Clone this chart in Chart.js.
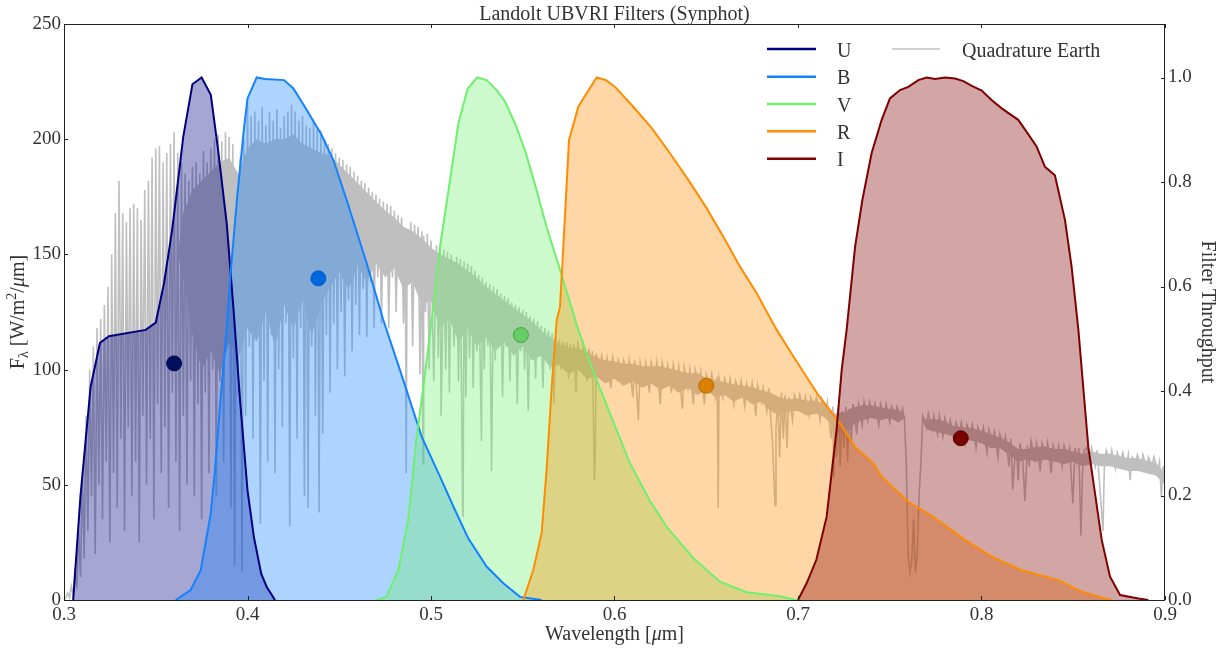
<!DOCTYPE html>
<html>
<head>
<meta charset="utf-8">
<title>Landolt UBVRI Filters (Synphot)</title>
<script src="https://cdn.jsdelivr.net/npm/chart.js@4.4.1/dist/chart.umd.min.js"></script>
<style>
  html, body { margin: 0; padding: 0; background: #fff; }
  canvas { display: block; }
</style>
</head>
<body>
<canvas id="chart" width="1225" height="649"></canvas>
<script>
// axis ticks
const xTicks = [0.3, 0.4, 0.5, 0.6, 0.7, 0.8, 0.9];
const fluxTicks = [0, 50, 100, 150, 200, 250];
const thruTicks = [0, 0.2, 0.4, 0.6, 0.8, 1.0];

// filter throughput curves (wavelength in um, throughput 0-1)
const filterNames = ['U', 'B', 'V', 'R', 'I'];
const uWave = [0.305, 0.309, 0.3145, 0.3196, 0.3245, 0.3445, 0.350, 0.3545, 0.359, 0.365, 0.370, 0.375, 0.380, 0.384, 0.3887, 0.3923, 0.396, 0.400, 0.4035, 0.4075, 0.4105, 0.415];
const uThru = [0, 0.20, 0.408, 0.492, 0.505, 0.517, 0.531, 0.606, 0.71, 0.887, 0.987, 1.0, 0.967, 0.861, 0.72, 0.56, 0.38, 0.21, 0.12, 0.05, 0.025, 0];
const bWave = [0.3609, 0.369, 0.3745, 0.380, 0.3823, 0.3854, 0.3887, 0.3908, 0.3944, 0.398, 0.4, 0.405, 0.4095, 0.4199, 0.425, 0.4323, 0.4404, 0.4468, 0.454, 0.465, 0.474, 0.4831, 0.4949, 0.5049, 0.5122, 0.5203, 0.5303, 0.5394, 0.5485, 0.5603];
const bThru = [0, 0.019, 0.057, 0.166, 0.25, 0.389, 0.52, 0.626, 0.772, 0.9, 0.96, 1.0, 0.997, 0.995, 0.979, 0.938, 0.89, 0.842, 0.766, 0.644, 0.536, 0.44, 0.3126, 0.236, 0.179, 0.118, 0.064, 0.032, 0.006, 0];
const vWave = [0.4704, 0.4758, 0.4822, 0.4876, 0.4922, 0.4958, 0.5004, 0.5049, 0.5104, 0.5149, 0.520, 0.5252, 0.5303, 0.5358, 0.5403, 0.5458, 0.5512, 0.5567, 0.563, 0.5703, 0.5803, 0.5848, 0.5903, 0.5975, 0.6084, 0.6193, 0.6285, 0.643, 0.6575, 0.672, 0.6884, 0.6993];
const vThru = [0, 0.006, 0.057, 0.153, 0.3126, 0.408, 0.536, 0.676, 0.804, 0.912, 0.979, 1.0, 0.995, 0.976, 0.954, 0.912, 0.861, 0.795, 0.714, 0.632, 0.517, 0.472, 0.421, 0.357, 0.262, 0.19, 0.14, 0.08, 0.035, 0.015, 0.008, 0];
const rWave = [0.5503, 0.5557, 0.5603, 0.563, 0.5658, 0.5685, 0.5703, 0.573, 0.5752, 0.5803, 0.5848, 0.5903, 0.5954, 0.6003, 0.6102, 0.6203, 0.6302, 0.6402, 0.6502, 0.6593, 0.6684, 0.6775, 0.6884, 0.6975, 0.7111, 0.7229, 0.7311, 0.741, 0.7456, 0.7601, 0.7737, 0.791, 0.8055, 0.8219, 0.8419, 0.8546, 0.8673, 0.871];
const rThru = [0, 0.057, 0.128, 0.249, 0.408, 0.536, 0.561, 0.734, 0.88, 0.944, 0.97, 1.0, 0.995, 0.982, 0.944, 0.903, 0.855, 0.804, 0.75, 0.695, 0.638, 0.587, 0.517, 0.466, 0.392, 0.338, 0.293, 0.262, 0.236, 0.188, 0.159, 0.115, 0.083, 0.057, 0.038, 0.016, 0.003, 0];
const iWave = [0.700, 0.7047, 0.710, 0.7156, 0.721, 0.7238, 0.7265, 0.7311, 0.7351, 0.7401, 0.7456, 0.7501, 0.7556, 0.7601, 0.7656, 0.7701, 0.7747, 0.7801, 0.7856, 0.7901, 0.7947, 0.8001, 0.8055, 0.811, 0.82, 0.8246, 0.83, 0.8346, 0.84, 0.8455, 0.8491, 0.8528, 0.8582, 0.8655, 0.870, 0.8755, 0.8855, 0.8909];
const iThru = [0, 0.032, 0.077, 0.159, 0.325, 0.44, 0.517, 0.676, 0.766, 0.855, 0.919, 0.96, 0.976, 0.982, 0.995, 1.0, 0.997, 1.0, 0.998, 0.993, 0.984, 0.975, 0.957, 0.941, 0.919, 0.896, 0.868, 0.829, 0.813, 0.727, 0.638, 0.517, 0.293, 0.115, 0.045, 0.0096, 0.003, 0];

// photometric points per band (left axis, W/m^2/um)
const markWave = [0.36, 0.4386, 0.549, 0.65, 0.7887];
const markFlux = [102.7, 139.6, 115.0, 93.0, 70.2];

// quadrature Earth spectrum, [wavelength um, flux W/m^2/um]
const specUV = [
  [0.300, 0], [0.301, 1], [0.302, 3], [0.303, 1], [0.304, 6], [0.305, 2], [0.306, 14], [0.307, 5], [0.308, 30], [0.309, 10],
  [0.310, 55], [0.311, 18], [0.312, 80], [0.313, 30], [0.314, 100], [0.315, 45], [0.316, 110], [0.317, 20], [0.318, 118], [0.319, 50],
  [0.320, 122], [0.321, 35], [0.322, 128], [0.323, 60], [0.324, 136], [0.325, 25], [0.326, 150], [0.327, 55], [0.328, 168], [0.329, 40],
  [0.330, 182], [0.331, 70], [0.332, 168], [0.333, 30], [0.334, 164], [0.335, 75], [0.336, 170], [0.337, 45], [0.338, 172], [0.339, 60],
  [0.340, 170], [0.341, 25], [0.342, 165], [0.343, 80], [0.344, 178], [0.345, 50], [0.346, 182], [0.347, 70], [0.348, 192], [0.349, 35],
  [0.350, 196], [0.351, 85], [0.352, 197], [0.353, 55], [0.354, 190], [0.355, 75], [0.356, 194], [0.357, 40], [0.358, 198], [0.359, 90],
  [0.360, 203], [0.361, 60], [0.362, 194], [0.363, 30], [0.364, 190], [0.365, 80], [0.366, 185], [0.367, 50], [0.368, 182], [0.369, 95],
  [0.370, 188], [0.371, 45], [0.372, 190], [0.373, 85], [0.374, 185], [0.375, 35], [0.376, 195], [0.377, 90], [0.378, 190], [0.379, 55],
  [0.380, 196], [0.381, 100], [0.382, 200], [0.383, 45], [0.384, 202], [0.385, 95], [0.386, 199], [0.387, 60], [0.388, 203], [0.389, 110],
  [0.390, 201], [0.391, 40], [0.392, 198], [0.393, 15], [0.394, 185], [0.395, 90], [0.396, 192], [0.397, 12], [0.398, 200], [0.399, 80],
  [0.400, 216]
];
const specBlue = [
  [0.401, 110], [0.402, 210], [0.403, 70], [0.404, 212], [0.405, 120], [0.406, 208], [0.407, 33], [0.408, 214], [0.409, 95], [0.410, 206],
  [0.411, 60], [0.412, 212], [0.413, 115], [0.414, 208], [0.415, 55], [0.416, 213], [0.417, 100], [0.418, 205], [0.419, 75], [0.420, 210],
  [0.421, 120], [0.422, 212], [0.423, 32], [0.424, 215], [0.425, 105], [0.426, 212], [0.427, 70], [0.428, 208], [0.429, 118], [0.430, 210],
  [0.431, 45], [0.432, 206], [0.433, 40], [0.434, 205], [0.435, 110], [0.436, 208], [0.437, 80], [0.438, 204], [0.439, 38], [0.440, 204],
  [0.441, 72], [0.442, 200], [0.443, 115], [0.444, 198], [0.445, 90], [0.446, 196], [0.447, 120], [0.448, 194], [0.449, 100], [0.450, 192],
  [0.451, 125], [0.452, 191], [0.453, 97], [0.454, 189], [0.455, 130], [0.456, 188], [0.457, 108], [0.458, 186], [0.459, 128], [0.460, 184],
  [0.461, 115], [0.462, 182], [0.463, 135], [0.464, 181], [0.465, 114], [0.466, 179], [0.467, 138], [0.468, 177], [0.469, 118], [0.470, 176],
  [0.471, 140], [0.472, 174], [0.473, 120], [0.474, 173], [0.475, 142], [0.476, 172], [0.477, 118], [0.478, 171], [0.479, 140], [0.480, 169],
  [0.481, 125], [0.482, 167], [0.483, 145], [0.484, 166], [0.485, 120], [0.486, 150], [0.4865, 55], [0.487, 158], [0.488, 140], [0.489, 164],
  [0.490, 110], [0.491, 163], [0.492, 140], [0.493, 162], [0.494, 98], [0.495, 160], [0.4957, 59], [0.496, 158], [0.497, 125], [0.498, 159],
  [0.499, 100], [0.500, 156]
];
const specGreen = [
  [0.5015, 95], [0.503, 154], [0.504, 105], [0.505, 153], [0.5055, 80], [0.507, 152], [0.508, 100], [0.509, 151], [0.510, 90], [0.511, 150],
  [0.5125, 110], [0.514, 149], [0.515, 95], [0.516, 148], [0.5172, 40], [0.5175, 36], [0.518, 147], [0.519, 88], [0.520, 146], [0.521, 105],
  [0.522, 145], [0.523, 92], [0.524, 143], [0.525, 108], [0.526, 141], [0.5275, 69], [0.528, 140], [0.529, 100], [0.530, 138], [0.531, 110],
  [0.532, 137], [0.533, 56], [0.534, 136], [0.535, 104], [0.536, 135], [0.537, 112], [0.538, 133], [0.539, 88], [0.540, 132], [0.541, 110],
  [0.542, 131], [0.543, 95], [0.544, 129], [0.545, 112], [0.546, 128], [0.547, 85], [0.548, 127], [0.549, 108], [0.550, 126], [0.551, 100],
  [0.552, 125], [0.553, 82], [0.554, 123], [0.555, 106], [0.556, 122], [0.557, 96], [0.558, 121], [0.559, 108], [0.560, 119], [0.561, 92],
  [0.562, 118], [0.563, 104], [0.564, 117], [0.565, 100], [0.566, 116], [0.567, 85], [0.568, 114], [0.569, 102], [0.570, 113]
];
const specOrange = [
  [0.571, 100], [0.572, 112], [0.573, 104], [0.574, 112], [0.575, 96], [0.576, 111], [0.577, 105], [0.578, 111], [0.579, 90], [0.580, 111],
  [0.582, 102], [0.583, 110], [0.585, 95], [0.586, 109], [0.587, 100], [0.588, 108], [0.589, 52], [0.5895, 60], [0.590, 107], [0.592, 98],
  [0.593, 106], [0.595, 100], [0.596, 105], [0.598, 92], [0.599, 105], [0.601, 97], [0.602, 104], [0.604, 95], [0.605, 104], [0.607, 98],
  [0.608, 104], [0.610, 88], [0.611, 104], [0.613, 78], [0.614, 103], [0.616, 95], [0.617, 103], [0.619, 90], [0.620, 103], [0.622, 96],
  [0.623, 103], [0.625, 85], [0.626, 103], [0.628, 95], [0.629, 102], [0.631, 90], [0.632, 102], [0.634, 95], [0.635, 101], [0.637, 83],
  [0.638, 101], [0.640, 92], [0.641, 100], [0.643, 85], [0.644, 100], [0.646, 93], [0.647, 99], [0.649, 85], [0.650, 98], [0.652, 92],
  [0.653, 98], [0.655, 88], [0.656, 97], [0.6565, 40], [0.657, 96], [0.659, 88], [0.660, 96], [0.662, 90], [0.663, 96], [0.665, 85],
  [0.666, 95], [0.668, 90], [0.669, 95], [0.671, 84], [0.672, 94], [0.674, 88], [0.675, 94], [0.677, 80], [0.678, 93], [0.680, 86],
  [0.681, 92], [0.683, 82], [0.684, 92], [0.686, 70], [0.6875, 41], [0.688, 74], [0.689, 88], [0.690, 62], [0.691, 90], [0.692, 70],
  [0.693, 89], [0.694, 66], [0.695, 88], [0.697, 78], [0.698, 89], [0.700, 84]
];
const specRed = [
  [0.701, 89], [0.703, 82], [0.704, 88], [0.706, 80], [0.707, 88], [0.709, 84], [0.710, 88], [0.712, 78], [0.713, 87], [0.715, 80],
  [0.716, 86], [0.718, 70], [0.719, 84], [0.7195, 53], [0.720, 80], [0.721, 62], [0.722, 84], [0.723, 58], [0.724, 82], [0.725, 66],
  [0.726, 84], [0.727, 60], [0.728, 83], [0.729, 68], [0.730, 85], [0.732, 72], [0.733, 85], [0.735, 76], [0.736, 86], [0.738, 78],
  [0.739, 86], [0.741, 80], [0.742, 85], [0.744, 76], [0.745, 85], [0.747, 80], [0.748, 85], [0.750, 77], [0.751, 84], [0.753, 79],
  [0.754, 84], [0.756, 80], [0.757, 83], [0.758, 78], [0.759, 60], [0.760, 20], [0.761, 12], [0.762, 17], [0.763, 35], [0.764, 12],
  [0.765, 20], [0.766, 46], [0.767, 60], [0.768, 80], [0.770, 76], [0.771, 81], [0.773, 74], [0.774, 80], [0.776, 72], [0.777, 80],
  [0.779, 71], [0.780, 79], [0.782, 74], [0.783, 78], [0.785, 70], [0.786, 77], [0.788, 73], [0.789, 77], [0.791, 68], [0.792, 76],
  [0.794, 72], [0.795, 76], [0.797, 66], [0.798, 75], [0.800, 70]
];
const specNIR = [
  [0.801, 75], [0.803, 64], [0.804, 74], [0.806, 69], [0.807, 73], [0.809, 62], [0.810, 72], [0.812, 67], [0.813, 71], [0.815, 58],
  [0.816, 70], [0.817, 48], [0.818, 60], [0.819, 66], [0.820, 52], [0.821, 68], [0.8225, 60], [0.8237, 43], [0.825, 67], [0.826, 58],
  [0.827, 69], [0.829, 61], [0.830, 68], [0.832, 56], [0.833, 68], [0.835, 62], [0.836, 68], [0.838, 55], [0.839, 67], [0.841, 62],
  [0.842, 67], [0.844, 58], [0.845, 67], [0.847, 62], [0.848, 66], [0.8498, 42], [0.851, 66], [0.852, 60], [0.853, 66], [0.8542, 28],
  [0.855, 55], [0.856, 65], [0.8573, 66], [0.859, 60], [0.860, 66], [0.862, 58], [0.863, 65], [0.8662, 30], [0.867, 60], [0.868, 65],
  [0.870, 60], [0.871, 65], [0.873, 57], [0.874, 64], [0.876, 60], [0.877, 64], [0.879, 58], [0.880, 63], [0.881, 52], [0.882, 62],
  [0.884, 60], [0.885, 63], [0.887, 58], [0.888, 63], [0.890, 57], [0.891, 62], [0.893, 58], [0.894, 62], [0.896, 56], [0.897, 60],
  [0.898, 45], [0.899, 58], [0.900, 50]
];

// dense body of the line forest: solid between coreTop and coreBottom
const coreWave = [
  0.362, 0.365, 0.370, 0.375, 0.380, 0.385, 0.390, 0.395, 0.400, 0.405, 0.410, 0.415, 0.420, 0.425, 0.430, 0.435, 0.440, 0.445, 0.450,
  0.455, 0.460, 0.465, 0.470, 0.475, 0.480, 0.485, 0.490, 0.495, 0.500, 0.505, 0.510, 0.515, 0.520, 0.525, 0.530, 0.535, 0.540, 0.545,
  0.550, 0.555, 0.560, 0.565, 0.570, 0.575, 0.580, 0.585, 0.590, 0.595, 0.600, 0.605, 0.610, 0.615, 0.620, 0.625, 0.630, 0.635, 0.640,
  0.645, 0.650, 0.655, 0.660, 0.665, 0.670, 0.675, 0.680, 0.685, 0.690, 0.695, 0.700, 0.705, 0.710, 0.715, 0.720, 0.725, 0.730, 0.735,
  0.740, 0.745, 0.750, 0.755, 0.758, 0.759, 0.767, 0.768, 0.770, 0.775, 0.780, 0.785, 0.790, 0.795, 0.800, 0.805, 0.810, 0.815, 0.820,
  0.825, 0.830, 0.835, 0.840, 0.845, 0.850, 0.855, 0.860, 0.865, 0.870, 0.875, 0.880, 0.885, 0.890, 0.895, 0.900
];
const coreTop = [
  150, 168, 178, 182, 186, 190, 192, 185, 196, 200, 198, 200, 200, 202, 198, 196, 194, 193, 189,
  185, 181, 177, 173, 169, 166, 162, 160, 157, 153, 150, 148, 146, 143, 140, 136, 133, 130, 127,
  124, 121, 117, 114, 111, 109.5, 109.5, 107.5, 105.5, 104, 103.5, 102.5, 102.5, 101.5, 101.5, 101.5, 100.5, 99.5, 98.5,
  98.5, 96.5, 95.5, 94.5, 93.5, 93, 92.5, 91, 90, 88, 87, 87.5, 86.5, 86.5, 84.5, 81, 81.5, 83.5, 84.5,
  84.5, 83.5, 83, 82.5, 80, 79, 78, 78, 78.5, 78.5, 77.5, 75.5, 75, 74.5, 73.5, 72, 70.5, 68.5, 65.5,
  65.5, 66.5, 66.5, 65.5, 65.5, 64.5, 63.5, 64.5, 63.5, 63.5, 62.5, 61.5, 61.5, 60.5, 59.5, 55
];
const coreBottom = [
  150, 140, 115, 100, 108, 98, 112, 105, 118, 112, 125, 110, 128, 118, 130, 115, 128, 136, 142,
  135, 145, 138, 146, 140, 144, 135, 138, 128, 130, 118, 122, 112, 118, 110, 114, 108, 112, 106,
  110, 104, 106, 101, 102, 98, 100, 96, 97, 94, 96, 93, 95, 92, 94, 91, 93, 90, 92,
  89, 91, 88, 89, 86, 88, 85, 86, 82, 80, 82, 82, 80, 81, 79, 74, 72, 76, 78,
  79, 78, 79, 77, 79, 79, 78, 77, 74, 73, 72, 71, 70, 69, 68, 66, 66, 63, 60,
  61, 60, 61, 60, 59, 60, 58, 59, 58, 58, 57, 56, 56, 55, 54, 50
];

const lineColors = ['#000080', '#1482ff', '#6ef06e', '#ff8c00', '#800000'];
const fillColors = ['rgba(0,0,128,0.35)', 'rgba(20,130,255,0.35)', 'rgba(110,240,110,0.35)', 'rgba(255,140,0,0.35)', 'rgba(128,0,0,0.35)'];
const markFill = ['#000f5c', '#0066dc', '#64cd64', '#dc8000', '#780000'];
const markEdge = ['#000f5c', '#005fcc', '#46a546', '#b46a00', '#640000'];
const specColor = '#bfbfbf';
const textColor = '#333';
const serif = "'Liberation Serif', 'DejaVu Serif', serif";

const spectrum = [...specUV, ...specBlue, ...specGreen, ...specOrange, ...specRed, ...specNIR];
const filterWaves = [uWave, bWave, vWave, rWave, iWave];
const filterThrus = [uThru, bThru, vThru, rThru, iThru];

const pairs = (xs, ys) => xs.map((x, i) => ({ x: x, y: ys[i] }));

// draw order: spectrum, then all filter fills, then all filter outlines, then points
const datasets = [];
datasets.push({
    label: 'core top',
    data: pairs(coreWave, coreTop),
    yAxisID: 'y',
    borderWidth: 0,
    borderColor: specColor,
    pointRadius: 0,
    fill: false,
    order: 22
});
datasets.push({
    label: 'core bottom',
    data: pairs(coreWave, coreBottom),
    yAxisID: 'y',
    borderWidth: 0,
    borderColor: specColor,
    backgroundColor: specColor,
    pointRadius: 0,
    fill: '-1',
    order: 21
});
datasets.push({
    label: 'Quadrature Earth',
    data: spectrum.map(([x, y]) => ({ x, y })),
    yAxisID: 'y',
    borderColor: specColor,
    borderWidth: 1.6,
    pointRadius: 0,
    fill: false,
    order: 20
});
filterNames.forEach((name, i) => {
    datasets.push({
        label: name + ' fill',
        data: pairs(filterWaves[i], filterThrus[i]),
        yAxisID: 'y2',
        borderWidth: 0,
        borderColor: 'rgba(0,0,0,0)',
        backgroundColor: fillColors[i],
        pointRadius: 0,
        fill: 'origin',
        order: 15 - i
    });
});
filterNames.forEach((name, i) => {
    datasets.push({
        label: name,
        data: pairs(filterWaves[i], filterThrus[i]),
        yAxisID: 'y2',
        borderColor: lineColors[i],
        borderWidth: 2,
        pointRadius: 0,
        fill: false,
        order: 6 - i
    });
});
datasets.push({
    label: 'bands',
    data: pairs(markWave, markFlux),
    yAxisID: 'y',
    showLine: false,
    pointRadius: 7.5,
    pointBackgroundColor: markFill,
    pointBorderColor: markEdge,
    pointBorderWidth: 1,
    order: 0
});

function drawRich(ctx, parts, x, y, align) {
    let total = 0;
    parts.forEach(p => {
        ctx.font = `${p.italic ? 'italic ' : ''}${p.size}px ${serif}`;
        p.w = ctx.measureText(p.t).width;
        total += p.w;
    });
    let cx = align === 'center' ? x - total / 2 : x;
    ctx.textAlign = 'left';
    parts.forEach(p => {
        ctx.font = `${p.italic ? 'italic ' : ''}${p.size}px ${serif}`;
        ctx.fillText(p.t, cx, y + (p.dy || 0));
        cx += p.w;
    });
}

const decorations = {
    id: 'decorations',
    afterDraw(chart) {
        const { ctx, chartArea: a, scales } = chart;
        ctx.save();
        ctx.strokeStyle = '#222';
        ctx.lineWidth = 1;
        ctx.strokeRect(a.left + 0.5, a.top + 0.5, a.right - a.left - 1, a.bottom - a.top);

        // inward tick marks
        ctx.beginPath();
        xTicks.forEach(v => {
            const px = Math.round(scales.x.getPixelForValue(v)) + 0.5;
            ctx.moveTo(px, a.bottom); ctx.lineTo(px, a.bottom - 4);
            ctx.moveTo(px, a.top); ctx.lineTo(px, a.top + 4);
        });
        fluxTicks.forEach(v => {
            const py = Math.round(scales.y.getPixelForValue(v)) + 0.5;
            ctx.moveTo(a.left, py); ctx.lineTo(a.left + 4, py);
        });
        thruTicks.forEach(v => {
            const py = Math.round(scales.y2.getPixelForValue(v)) + 0.5;
            ctx.moveTo(a.right, py); ctx.lineTo(a.right - 4, py);
        });
        ctx.stroke();

        ctx.fillStyle = textColor;
        ctx.textBaseline = 'alphabetic';
        const midX = (a.left + a.right) / 2;
        const midY = (a.top + a.bottom) / 2;

        // title
        drawRich(ctx, [{ t: 'Landolt UBVRI Filters (Synphot)', size: 20 }], midX, 20, 'center');

        // x axis label
        drawRich(ctx, [
            { t: 'Wavelength [', size: 20 },
            { t: 'μ', size: 20, italic: true },
            { t: 'm]', size: 20 }
        ], midX, 640, 'center');

        // left axis label
        ctx.save();
        ctx.translate(24, midY);
        ctx.rotate(-Math.PI / 2);
        drawRich(ctx, [
            { t: 'F', size: 20 },
            { t: 'λ', size: 14, dy: 4 },
            { t: ' [W/m', size: 20 },
            { t: '2', size: 14, dy: -8 },
            { t: '/', size: 20 },
            { t: 'μ', size: 20, italic: true },
            { t: 'm]', size: 20 }
        ], 0, 0, 'center');
        ctx.restore();

        // right axis label
        ctx.save();
        ctx.translate(1202, midY);
        ctx.rotate(Math.PI / 2);
        drawRich(ctx, [{ t: 'Filter Throughput', size: 20 }], 0, 0, 'center');
        ctx.restore();

        // legend, two columns
        const rows = [49, 76.7, 104, 131.3, 158.7];
        filterNames.forEach((name, i) => {
            ctx.strokeStyle = lineColors[i];
            ctx.lineWidth = 2.5;
            ctx.beginPath();
            ctx.moveTo(767, rows[i]); ctx.lineTo(816, rows[i]);
            ctx.stroke();
            drawRich(ctx, [{ t: name, size: 20 }], 837, rows[i] + 7.5, 'left');
        });
        ctx.strokeStyle = specColor;
        ctx.lineWidth = 1.5;
        ctx.beginPath();
        ctx.moveTo(892, rows[0]); ctx.lineTo(940, rows[0]);
        ctx.stroke();
        drawRich(ctx, [{ t: 'Quadrature Earth', size: 20 }], 962, rows[0] + 7.5, 'left');
        ctx.restore();
    }
};

const tickFont = { family: serif, size: 19 };

new Chart(document.getElementById('chart'), {
    type: 'line',
    data: { datasets: datasets },
    options: {
        responsive: false,
        devicePixelRatio: 1,
        animation: false,
        layout: { padding: { top: 24, left: 0, right: 0, bottom: 0 } },
        plugins: {
            legend: { display: false },
            tooltip: { enabled: false },
            title: { display: false }
        },
        scales: {
            x: {
                type: 'linear',
                min: 0.3,
                max: 0.9,
                afterBuildTicks: s => { s.ticks = xTicks.map(v => ({ value: v })); },
                afterFit: s => { s.height = 49; },
                grid: { display: false, drawTicks: false },
                border: { display: false },
                ticks: {
                    font: tickFont, color: textColor, padding: 4,
                    maxRotation: 0, autoSkip: false,
                    callback: v => Number(v).toFixed(1)
                }
            },
            y: {
                type: 'linear',
                position: 'left',
                min: 0,
                max: 250,
                afterBuildTicks: s => { s.ticks = fluxTicks.map(v => ({ value: v })); },
                afterFit: s => { s.width = 64; },
                grid: { display: false, drawTicks: false },
                border: { display: false },
                ticks: { font: tickFont, color: textColor, padding: 3, autoSkip: false }
            },
            y2: {
                type: 'linear',
                position: 'right',
                min: 0,
                max: 1.1024,
                afterBuildTicks: s => { s.ticks = thruTicks.map(v => ({ value: v })); },
                afterFit: s => { s.width = 60; },
                grid: { display: false, drawTicks: false },
                border: { display: false },
                ticks: {
                    font: tickFont, color: textColor, padding: 3, autoSkip: false,
                    callback: v => Number(v).toFixed(1)
                }
            }
        }
    },
    plugins: [decorations]
});
</script>
</body>
</html>
